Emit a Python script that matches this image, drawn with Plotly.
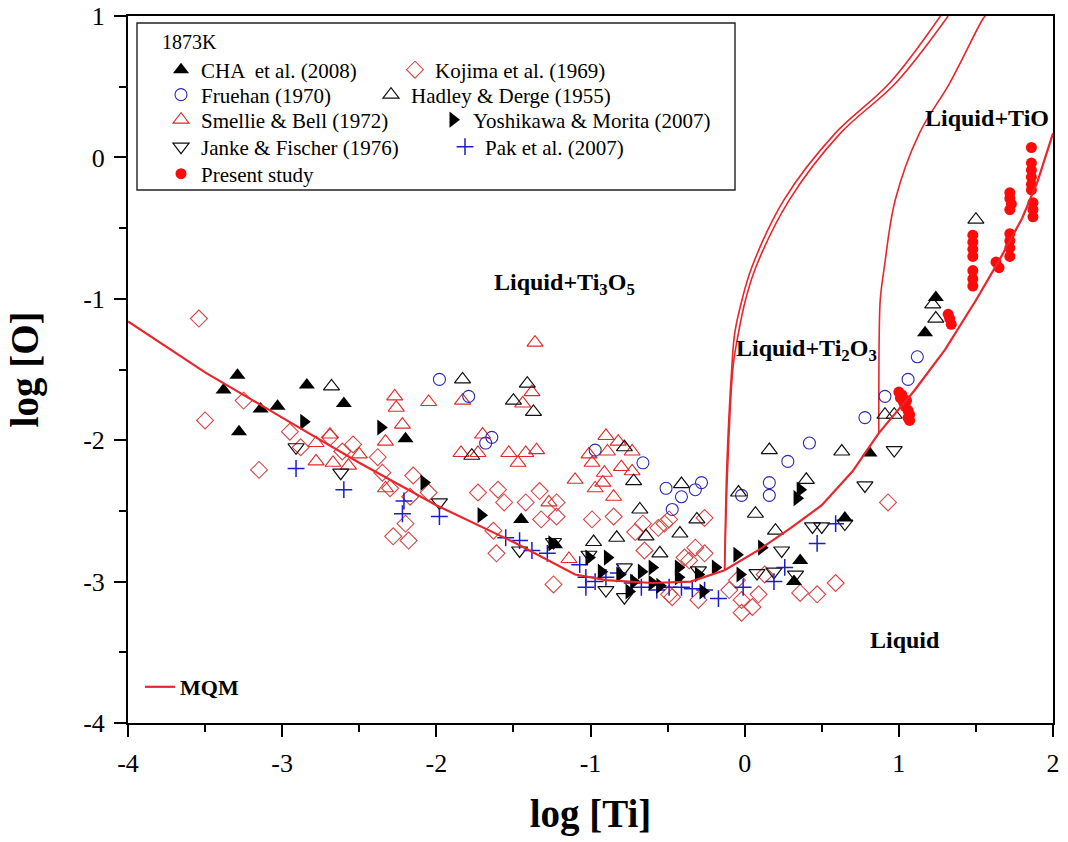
import plotly.graph_objects as go

# ---------------- data ----------------
cha_x = [-3.38, -3.29, -3.14, -3.03, -3.28, -2.84, -2.60, -2.20, -1.45, -1.23, 0.81, 0.36, 0.32, 0.65, 1.24, 1.17]
cha_y = [-1.645, -1.54, -1.78, -1.76, -1.94, -1.61, -1.74, -1.99, -2.56, -2.74, -2.09, -2.85, -3.00, -2.55, -0.99, -1.24]

kojima_x = [-3.54, -3.25, -3.50, -3.15, -2.95, -2.88, -2.69, -2.61, -2.54, -2.38, -2.35, -2.30, -2.15, -2.17,
            -2.20, -2.28, -2.18, -2.05, -1.73, -1.60, -1.56, -1.42, -1.33, -1.22, -1.32, -1.22, -1.63, -1.61,
            -1.24, -0.99, -0.85, -0.71, -0.65, -0.56, -0.49, -0.66, -0.39, -0.32, -0.26, -0.26, -0.30, -0.49,
            -0.02, 0.05, -0.02, -0.05, 0.09, 0.13, 0.36, 0.47, 0.59, 0.93, -0.52, -0.10, -0.36, -0.47]
kojima_y = [-1.14, -1.72, -1.86, -2.21, -1.94, -2.05, -1.98, -2.08, -2.03, -2.12, -2.23, -2.34, -2.25, -2.40,
            -2.59, -2.68, -2.71, -2.37, -2.37, -2.35, -2.44, -2.44, -2.36, -2.44, -2.56, -2.54, -2.64, -2.80,
            -3.02, -2.56, -2.54, -2.65, -2.78, -2.62, -2.56, -2.59, -2.83, -2.76, -2.80, -2.55, -3.13, -3.09,
            -3.13, -3.18, -3.22, -2.99, -3.09, -2.95, -3.08, -3.09, -3.01, -2.44, -2.59, -3.06, -2.85, -3.11]

fruehan_x = [-1.98, -1.79, -1.64, -1.68, -0.97, -0.66, -0.51, -0.41, -0.32, -0.28, -0.47, -0.02, 0.16, 0.16,
             0.28, 0.42, 0.78, 0.91, 1.06, 1.12]
fruehan_y = [-1.57, -1.69, -1.98, -2.02, -2.07, -2.16, -2.34, -2.40, -2.35, -2.30, -2.49, -2.39, -2.30, -2.39,
             -2.15, -2.02, -1.84, -1.69, -1.57, -1.41]

hadley_x = [-2.68, -1.83, -1.41, -1.50, -1.37, -1.77, -0.78, -0.72, -0.68, -0.98, -0.83, -0.64, -0.42, -0.55,
            -0.41, -0.31, -0.04, 0.07, 0.16, 0.40, 0.20, 0.63, 0.91, 0.97, 1.22, 1.24, 1.50]
hadley_y = [-1.62, -1.57, -1.60, -1.72, -1.80, -2.11, -2.05, -2.29, -2.49, -2.72, -2.69, -2.68, -2.66, -2.80,
            -2.31, -2.56, -2.37, -2.52, -2.07, -2.28, -2.64, -2.08, -1.82, -1.82, -1.04, -1.14, -0.44]

smellie_x = [-2.27, -2.26, -2.05, -1.83, -2.22, -2.33, -2.69, -2.78, -2.78, -2.67, -2.57, -2.50, -2.33, -1.36,
             -1.70, -1.84, -1.73, -1.53, -1.47, -1.42, -1.35, -0.90, -0.82, -1.01, -0.99, -0.89, -0.73, -0.91,
             -0.92, -0.80, -0.73, -1.10, -0.97, -0.85, -1.27, -1.14, -1.38, -1.44]
smellie_y = [-1.69, -1.77, -1.73, -1.72, -1.89, -2.01, -1.96, -2.02, -2.15, -2.16, -2.18, -2.10, -2.34, -1.31,
             -1.96, -2.09, -2.09, -2.09, -2.16, -2.09, -2.07, -1.97, -2.01, -2.10, -2.16, -2.08, -2.08, -2.23,
             -2.30, -2.19, -2.22, -2.28, -2.34, -2.40, -2.44, -2.84, -1.66, -1.74]

yoshi_x = [-2.86, -2.36, -2.08, -1.71, -1.25, -1.01, -0.89, -0.93, -0.81, -0.72, -0.67, -0.60, -0.60, -0.55,
           -0.43, -0.43, -0.30, -0.19, -0.27, -0.05, 0.11, -0.03, -0.75, 0.34, 0.36]
yoshi_y = [-1.87, -1.91, -2.30, -2.53, -2.73, -2.83, -2.83, -2.93, -2.95, -3.00, -2.93, -2.90, -3.01, -3.03,
           -2.90, -2.97, -2.95, -2.90, -3.07, -2.81, -2.76, -2.95, -3.07, -2.41, -2.35]

janke_x = [-2.91, -2.62, -1.98, -1.46, -1.24, -1.01, -0.78, -0.90, -0.78, -0.30, 0.08, 0.24, 0.19, 0.33,
           0.44, 0.50, 0.65, 0.78, 0.97]
janke_y = [-2.05, -2.23, -2.44, -2.78, -2.72, -2.81, -2.90, -3.06, -3.11, -2.92, -2.94, -2.78, -2.93, -2.95,
           -2.61, -2.61, -2.59, -2.32, -2.07]

pak_x = [-2.91, -2.60, -2.21, -2.22, -1.98, -1.55, -1.46, -1.38, -1.28, -1.07, -1.03, -1.03, -0.97, -0.90,
         -0.82, -0.73, -0.67, -0.57, -0.49, -0.41, -0.34, -0.26, -0.17, -0.01, 0.19, 0.26, 0.47, 0.59]
pak_y = [-2.20, -2.35, -2.43, -2.52, -2.54, -2.69, -2.71, -2.78, -2.80, -2.88, -2.97, -3.04, -3.00, -2.97,
         -2.94, -3.01, -3.04, -3.06, -3.04, -3.04, -3.05, -3.06, -3.12, -3.04, -3.00, -2.90, -2.73, -2.59]

present_x = [1.00, 1.01, 1.02, 1.03, 1.04, 1.05, 1.06, 1.07, 1.07, 1.06,
             1.32, 1.33, 1.34,
             1.48, 1.48, 1.48, 1.48, 1.48, 1.48, 1.48,
             1.63, 1.65,
             1.72, 1.72, 1.72, 1.72,
             1.72, 1.72, 1.73, 1.72,
             1.86, 1.86, 1.86, 1.86, 1.86, 1.86, 1.87, 1.87, 1.87]
present_y = [-1.66, -1.70, -1.68, -1.73, -1.76, -1.72, -1.79, -1.82, -1.86, -1.84,
             -1.11, -1.14, -1.18,
             -0.55, -0.60, -0.65, -0.70, -0.80, -0.86, -0.91,
             -0.74, -0.78,
             -0.54, -0.59, -0.64, -0.70,
             -0.25, -0.29, -0.33, -0.37,
             0.07, -0.04, -0.09, -0.14, -0.19, -0.23, -0.32, -0.37, -0.42]

# calculated (MQM) curves
mqm_x = [-4.0, -3.5, -3.0, -2.5, -2.0, -1.5, -1.1, -0.9, -0.6, -0.35, -0.13, 0.1, 0.3, 0.5, 0.7, 0.87,
         1.0, 1.1, 1.3, 1.5, 1.65, 1.8, 1.9, 2.0]
mqm_y = [-1.16, -1.52, -1.84, -2.16, -2.46, -2.72, -2.95, -2.99, -3.01, -3.00, -2.92, -2.77, -2.62, -2.46,
         -2.22, -1.95, -1.78, -1.65, -1.36, -1.01, -0.73, -0.43, -0.17, 0.17]

b1_x = [-0.13, -0.116, -0.083, -0.064, -0.018, 0.047, 0.255, 0.587, 0.94, 1.27]
b1_y = [-2.92, -2.19, -1.48, -1.24, -1.01, -0.775, -0.30, 0.17, 0.526, 1.0]
b2_x = [-0.13, -0.11, -0.075, -0.04, 0.005, 0.073, 0.29, 0.62, 0.98, 1.32]
b2_y = [-2.92, -2.19, -1.48, -1.24, -1.01, -0.775, -0.30, 0.17, 0.526, 1.0]
b3_x = [0.87, 0.873, 0.880, 0.906, 0.977, 1.133, 1.33, 1.54, 1.56]
b3_y = [-1.95, -1.24, -1.0, -0.775, -0.30, 0.17, 0.526, 0.97, 1.0]

x_ticks = [-4, -3, -2, -1, 0, 1, 2]
x_ticklabels = ["-4", "-3", "-2", "-1", "0", "1", "2"]
y_ticks = [-4, -3, -2, -1, 0, 1]
y_ticklabels = ["-4", "-3", "-2", "-1", "0", "1"]

# ---------------- figure ----------------
SERIF = "Liberation Serif, Times New Roman, serif"
RED = "#e8262c"

FIG_W, FIG_H = 1068, 842
# plot-area geometry in pixels
L, R, T, B = 128, 1053, 16, 723
W, H = R - L, B - T


def px(xp):
    return (xp - L) / W


def py(yp):
    return (B - yp) / H


fig = go.Figure()

line_style = dict(color=RED, width=1.6)
for bx, by in ((b1_x, b1_y), (b2_x, b2_y), (b3_x, b3_y)):
    fig.add_trace(go.Scatter(x=bx, y=by, mode="lines", line=dict(**line_style, shape="spline", smoothing=1.0),
                             showlegend=False, hoverinfo="skip"))

series = [
    ("Kojima et al. (1969)", kojima_x, kojima_y, dict(symbol="diamond-open", size=13, color="#d64545", line=dict(width=1.1)), "legend2"),
    ("Smellie & Bell (1972)", smellie_x, smellie_y, dict(symbol="triangle-up-open", size=14, color="#e02a2a", line=dict(width=1.1)), "legend5"),
    ("Fruehan (1970)", fruehan_x, fruehan_y, dict(symbol="circle-open", size=12, color="#2a2ab4", line=dict(width=1.1)), "legend3"),
    ("Hadley & Derge (1955)", hadley_x, hadley_y, dict(symbol="triangle-up-open", size=14, color="#111111", line=dict(width=1.2)), "legend4"),
    ("Janke & Fischer (1976)", janke_x, janke_y, dict(symbol="triangle-down-open", size=14, color="#111111", line=dict(width=1.2)), "legend7"),
    ("Pak et al. (2007)", pak_x, pak_y, dict(symbol="cross-thin-open", size=12, color="#1c1cc8", line=dict(width=1.5)), "legend8"),
    ("Yoshikawa & Morita (2007)", yoshi_x, yoshi_y, dict(symbol="triangle-right", size=14, color="#000000"), "legend6"),
    ("CHA  et al. (2008)", cha_x, cha_y, dict(symbol="triangle-up", size=14, color="#000000"), "legend"),
    ("Present study", present_x, present_y, dict(symbol="circle", size=11, color="#ff0a0a"), "legend9"),
]
for name, xs, ys, mk, lg in series:
    fig.add_trace(go.Scatter(x=xs, y=ys, mode="markers", name=name, marker=mk, legend=lg))

fig.add_trace(go.Scatter(x=mqm_x, y=mqm_y, mode="lines", name="<b>MQM</b>",
                         line=dict(color=RED, width=2.2), legend="legend10"))

# legend placement (pixel positions of the text start / row centre)
leg_font = dict(family=SERIF, size=21, color="#000000")
leg_rows = {
    "legend": (201, 70), "legend3": (201, 95), "legend5": (201, 120), "legend7": (201, 147), "legend9": (201, 174),
    "legend2": (435, 70), "legend4": (411, 95), "legend6": (473, 120), "legend8": (485, 147),
}
legends = {}
for key, (tx, ty) in leg_rows.items():
    legends[key] = dict(x=px(tx - 40), y=py(ty), xanchor="left", yanchor="middle", bgcolor="rgba(0,0,0,0)",
                        borderwidth=0, font=leg_font, itemsizing="trace")
legends["legend10"] = dict(x=px(140), y=py(687), xanchor="left", yanchor="middle", bgcolor="rgba(0,0,0,0)",
                           borderwidth=0, font=dict(family=SERIF, size=22, color="#000000"))

fig.update_layout(**legends)

axis_common = dict(showgrid=False, zeroline=False, showline=True, linewidth=2, linecolor="black", mirror=True,
                   ticks="outside", ticklen=12, tickwidth=2, tickcolor="black",
                   tickfont=dict(family=SERIF, size=26), ticklabelstandoff=4, ticklabeloverflow="allow",
                   minor=dict(dtick=0.5, ticks="outside", ticklen=7, tickwidth=2, tickcolor="black"))

fig.update_layout(
    width=FIG_W, height=FIG_H,
    margin=dict(l=L, r=FIG_W - R, t=T, b=FIG_H - B, autoexpand=False),
    paper_bgcolor="white", plot_bgcolor="white",
    font=dict(family=SERIF, color="#000000"),
    xaxis=dict(range=[-4, 2], tickvals=x_ticks, ticktext=x_ticklabels, **axis_common,
               title=dict(text="<b>log [Ti]</b>", font=dict(family=SERIF, size=39), standoff=22)),
    yaxis=dict(range=[-4, 1], tickvals=y_ticks, ticktext=y_ticklabels, **axis_common,
               title=dict(text="<b>log [O]</b>", font=dict(family=SERIF, size=39), standoff=32)),
)

# legend frame and header
fig.add_shape(type="rect", xref="paper", yref="paper", x0=px(137), x1=px(735), y0=py(190), y1=py(23),
              line=dict(color="#222222", width=1.4), fillcolor="rgba(0,0,0,0)")
fig.add_annotation(xref="paper", yref="paper", x=px(160), y=py(42), xanchor="left", yanchor="middle",
                   text="1873K", showarrow=False, font=dict(family=SERIF, size=20))

# phase-field labels
lab_font = dict(family=SERIF, size=24, color="#000000")
fig.add_annotation(x=-1.17, y=-0.895, text="<b>Liquid+Ti<sub>3</sub>O<sub>5</sub></b>", showarrow=False, font=lab_font)
fig.add_annotation(x=0.40, y=-1.36, text="<b>Liquid+Ti<sub>2</sub>O<sub>3</sub></b>", showarrow=False, font=lab_font)
fig.add_annotation(x=1.57, y=0.28, text="<b>Liquid+TiO</b>", showarrow=False, font=lab_font)
fig.add_annotation(x=1.04, y=-3.41, text="<b>Liquid</b>", showarrow=False, font=lab_font)

# remove the default page margin so the figure sits at the window's top-left corner
fig.write_html("out.html", config={"displayModeBar": False},
               post_script="document.body.style.margin='0';document.body.style.overflow='hidden';")
